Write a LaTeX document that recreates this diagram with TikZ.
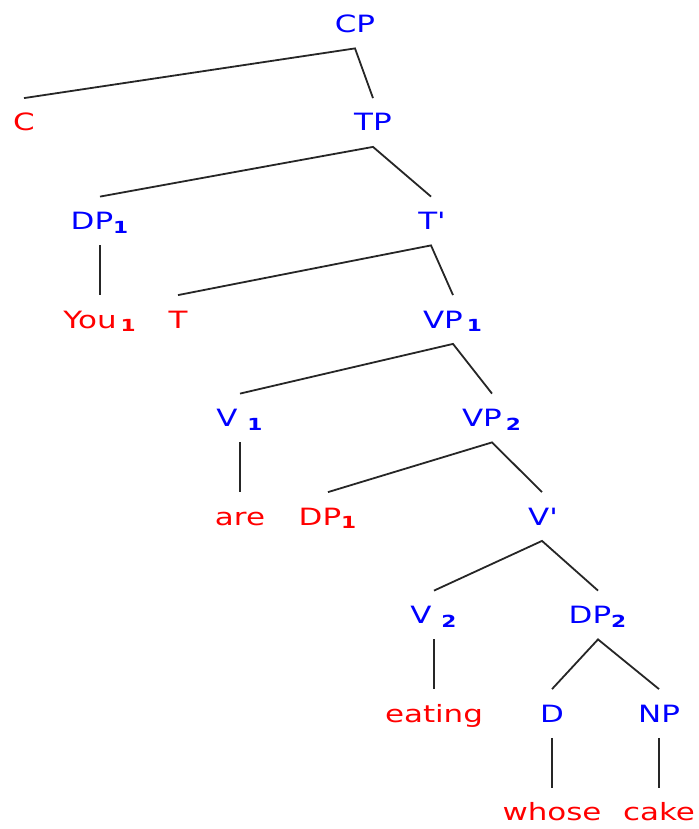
\documentclass[tikz,border=0pt]{standalone}
\usepackage{fontspec}
\setmainfont[FakeStretch=1.3]{DejaVu Sans}
\usepackage{tikz}
\definecolor{catblue}{RGB}{0,0,255}
\definecolor{wordred}{RGB}{255,0,0}
\tikzset{
  treenode/.style={
    inner sep=0pt,
    text height=16.25pt,
    text depth=7.75pt,
    font=\fontsize{11.9}{14}\selectfont
  },
  catnode/.style={treenode,text=catblue},
  wordnode/.style={treenode,text=wordred},
  branch/.style={draw=black!85,line width=0.9pt}
}
\newcommand{\sbn}[1]{\textsubscript{\textbf{#1}}}
\begin{document}
\begin{tikzpicture}[x=0.5pt,y=-0.5pt]
\useasboundingbox (0,0) rectangle (699,829);
% levels
\node[catnode] (cp) at (355,24) {CP};
\node[wordnode] (c) at (24,122.5) {C};
\node[catnode] (tp) at (373,122.5) {TP};
\node[catnode] (dpone) at (100,221) {DP\sbn{1}};
\node[catnode] (tbar) at (431,221) {T\textquotesingle};
\node[wordnode] (you) at (100,319.5) {You\,\sbn{1}};
\node[wordnode] (t) at (178,319.5) {T};
\node[catnode] (vpone) at (453,319.5) {VP\,\sbn{1}};
\node[catnode] (vone) at (240,418) {V \sbn{1}};
\node[catnode] (vptwo) at (492,418) {VP\,\sbn{2}};
\node[wordnode] (are) at (240,516.5) {are};
\node[wordnode] (dptrace) at (328,516.5) {DP\sbn{1}};
\node[catnode] (vbar) at (542,516.5) {V\textquotesingle};
\node[catnode] (vtwo) at (434,615) {V \sbn{2}};
\node[catnode] (dptwo) at (598,615) {DP\sbn{2}};
\node[wordnode] (eating) at (434,713.5) {eating};
\node[catnode] (d) at (552,713.5) {D};
\node[catnode] (np) at (659,713.5) {NP};
\node[wordnode] (whose) at (552,812) {whose};
\node[wordnode] (cake) at (659,812) {cake};
% branches
\draw[branch] (c.north)--(cp.south)--(tp.north);
\draw[branch] (dpone.north)--(tp.south)--(tbar.north);
\draw[branch] (dpone.south)--(you.north);
\draw[branch] (t.north)--(tbar.south)--(vpone.north);
\draw[branch] (vone.north)--(vpone.south)--(vptwo.north);
\draw[branch] (vone.south)--(are.north);
\draw[branch] (dptrace.north)--(vptwo.south)--(vbar.north);
\draw[branch] (vtwo.north)--(vbar.south)--(dptwo.north);
\draw[branch] (vtwo.south)--(eating.north);
\draw[branch] (d.north)--(dptwo.south)--(np.north);
\draw[branch] (d.south)--(whose.north);
\draw[branch] (np.south)--(cake.north);
\end{tikzpicture}
\end{document}
